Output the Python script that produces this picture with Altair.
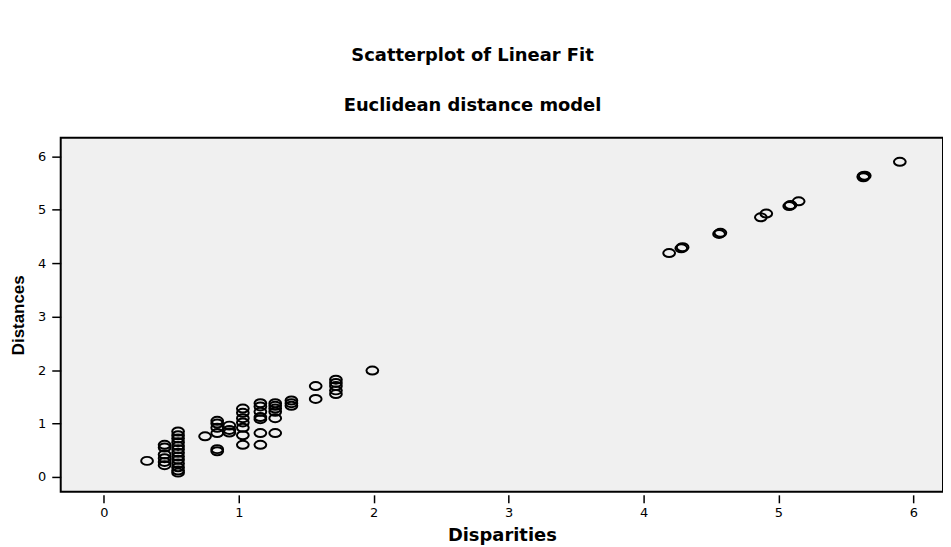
import altair as alt
import pandas as pd

# Disparities (x) and Distances (y)
disparities = [
    0.32,
    0.45, 0.45, 0.45, 0.45, 0.45, 0.45,
    0.55, 0.55, 0.55, 0.55, 0.55, 0.55, 0.55, 0.55, 0.55, 0.55, 0.55, 0.55, 0.55,
    0.75,
    0.84, 0.84, 0.84, 0.84, 0.84, 0.84,
    0.93, 0.93, 0.93,
    1.03, 1.03, 1.03, 1.03, 1.03, 1.03, 1.03,
    1.16, 1.16, 1.16, 1.16, 1.16, 1.16, 1.16,
    1.27, 1.27, 1.27, 1.27, 1.27, 1.27,
    1.39, 1.39, 1.39,
    1.57, 1.57,
    1.72, 1.72, 1.72, 1.72, 1.72,
    1.99,
    4.19, 4.28, 4.29,
    4.56, 4.57,
    4.87, 4.91,
    5.08, 5.09, 5.15,
    5.63, 5.63, 5.64,
    5.90,
]
distances = [
    0.30,
    0.60, 0.55, 0.42, 0.35, 0.28, 0.22,
    0.85, 0.78, 0.72, 0.65, 0.58, 0.52, 0.45, 0.38, 0.32, 0.25, 0.18, 0.12, 0.08,
    0.76,
    1.05, 1.00, 0.92, 0.82, 0.52, 0.48,
    0.96, 0.88, 0.83,
    1.28, 1.20, 1.10, 1.02, 0.92, 0.78, 0.60,
    1.38, 1.32, 1.22, 1.12, 1.08, 0.82, 0.60,
    1.38, 1.33, 1.28, 1.22, 1.10, 0.82,
    1.43, 1.38, 1.33,
    1.70, 1.46,
    1.82, 1.76, 1.70, 1.62, 1.55,
    1.99,
    4.19, 4.28, 4.30,
    4.55, 4.57,
    4.86, 4.93,
    5.07, 5.09, 5.16,
    5.61, 5.63, 5.64,
    5.90,
]

main_title = "Scatterplot of Linear Fit"
sub_title = "Euclidean distance model"
x_ticks = [0, 1, 2, 3, 4, 5, 6]
y_ticks = [0, 1, 2, 3, 4, 5, 6]

df = pd.DataFrame({"Disparities": disparities, "Distances": distances})
WIDE = "DejaVu Sans"
ARIAL = "Liberation Sans"

ellipse = "M -1 0 A 1 0.68 0 1 1 1 0 A 1 0.68 0 1 1 -1 0 Z"

points = alt.Chart(df).mark_point(
    shape=ellipse, filled=False, color="black", strokeWidth=2, size=140,
    opacity=1
).encode(
    x=alt.X("Disparities:Q",
            scale=alt.Scale(domain=[-0.32, 6.22], nice=False, zero=False),
            axis=alt.Axis(values=x_ticks, title="Disparities", grid=False,
                          domain=False, tickSize=8, tickColor="black", offset=3,
                          tickWidth=1.5, labelFont=WIDE, labelFontSize=13,
                          labelColor="black", labelPadding=4,
                          titleFont=WIDE, titleFontSize=18, titleFontWeight="bold",
                          titleColor="black", titlePadding=7)),
    y=alt.Y("Distances:Q",
            scale=alt.Scale(domain=[-0.28, 6.35], nice=False, zero=False),
            axis=alt.Axis(values=y_ticks, title="Distances", grid=False,
                          domain=False, tickSize=9, tickColor="black",
                          tickWidth=1.5, labelFont=WIDE, labelFontSize=13,
                          labelColor="black", labelPadding=6,
                          titleFont=ARIAL, titleFontSize=17, titleFontWeight="bold",
                          titleColor="black", titlePadding=10)),
)

titles = alt.Chart(pd.DataFrame({"t": [main_title, sub_title], "yy": [-82, -32]})).mark_text(
    font=WIDE, fontWeight="bold", fontSize=18, color="black", baseline="middle",
    align="center"
).encode(
    text="t:N",
    x=alt.value(414),
    y=alt.Y("yy:Q", scale=None),
)

chart = alt.layer(points, titles).properties(
    width=887, height=356,
    background="white",
    autosize=alt.AutoSizeParams(type="none"),
    padding={"left": 53, "top": 129, "right": 0, "bottom": 54},
).configure_view(
    fill="#f0f0f0", stroke="black", strokeWidth=2
)

chart.save("out.html", embed_options={"renderer": "svg", "actions": False})
